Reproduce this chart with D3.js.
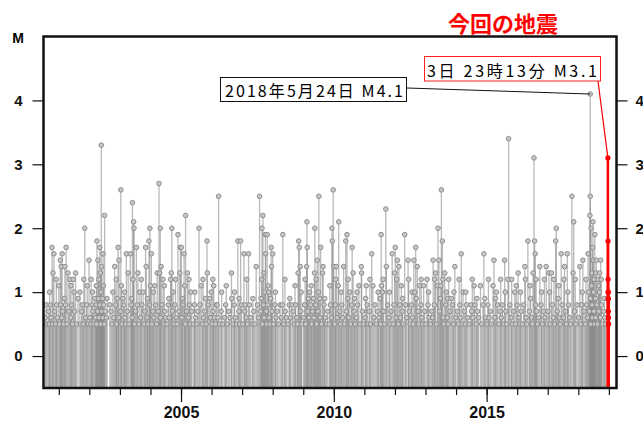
<!DOCTYPE html>
<html>
<head>
<meta charset="utf-8">
<script src="https://cdn.jsdelivr.net/npm/d3@7"></script>
<style>
  body { margin: 0; background: #fff; }
</style>
</head>
<body>
<div id="chart"></div>
<script>
// events M >= ~1: [decimal year, magnitude]
var bigQuakes = [
  [2000.78,1.7],[2000.81,1.3],[2000.84,1.6],[2001.00,1.1],[2001.05,1.5],[2001.08,1.4],[2001.11,1.6],[2001.20,1.4],[2001.24,1.7],[2001.30,1.3],[2001.36,1.2],[2001.47,1.2],[2001.50,1.0],[2001.55,1.3],[2001.63,0.9],[2001.77,0.8],[2001.85,2.0],[2001.93,1.1],[2001.99,1.5],
  [2002.06,1.2],[2002.25,1.8],[2002.28,1.5],[2002.34,1.7],[2002.36,1.3],[2002.39,3.3],[2002.40,1.4],[2002.45,1.6],[2002.50,2.2],[2002.67,0.8],[2002.77,1.0],[2002.83,1.4],[2002.91,0.9],[2002.94,1.7],[2002.97,1.5],
  [2003.03,2.6],[2003.05,1.1],[2003.10,0.9],[2003.21,1.6],[2003.27,1.3],[2003.34,1.6],[2003.41,2.4],[2003.43,1.2],[2003.45,2.1],[2003.46,2.0],[2003.54,1.7],[2003.59,1.3],[2003.65,1.0],[2003.76,1.0],[2003.84,1.7],[2003.86,1.4],[2003.95,1.8],[2003.98,2.0],
  [2004.00,1.1],[2004.03,1.6],[2004.14,1.1],[2004.22,1.3],[2004.28,2.7],[2004.30,1.3],[2004.32,2.0],[2004.35,1.4],[2004.41,1.2],[2004.66,1.2],[2004.68,1.3],[2004.70,2.0],[2004.74,1.0],[2004.90,1.9],[2004.96,1.3],[2004.98,1.7],
  [2005.01,1.7],[2005.10,1.6],[2005.12,1.1],[2005.15,2.2],[2005.21,1.3],[2005.32,1.0],[2005.59,2.0],[2005.66,1.1],[2005.85,1.8],[2005.86,1.3],[2005.94,0.9],[2005.99,1.0],
  [2006.07,1.1],[2006.15,0.8],[2006.23,2.5],[2006.65,1.3],[2006.66,0.9],[2006.86,1.8],[2006.95,1.8],
  [2007.06,1.6],[2007.10,0.8],[2007.21,1.6],[2007.46,1.4],[2007.57,2.5],[2007.65,2.0],[2007.68,2.2],[2007.76,1.9],[2007.77,1.6],[2007.82,1.9],[2007.85,1.1],[2007.95,1.7],[2007.96,1.4],
  [2008.00,1.6],[2008.24,0.8],[2008.33,1.9],[2008.63,0.8],[2008.83,1.3],[2008.85,1.8],[2008.87,1.7],[2008.90,1.4],
  [2009.11,1.4],[2009.12,2.1],[2009.13,1.7],[2009.21,1.0],[2009.37,1.3],[2009.38,2.0],[2009.46,1.5],[2009.51,2.5],[2009.57,1.7],[2009.63,1.3],[2009.65,1.4],[2009.94,2.0],[2009.95,1.8],[2009.98,2.6],
  [2010.00,1.4],[2010.08,1.4],[2010.14,1.1],[2010.16,2.1],[2010.32,1.4],[2010.39,1.8],[2010.43,1.9],[2010.52,1.0],[2010.60,1.7],[2010.63,1.3],[2010.82,1.1],[2010.90,1.4],[2010.91,1.3],
  [2011.06,1.1],[2011.24,1.6],[2011.28,1.1],[2011.55,1.9],[2011.56,1.1],[2011.59,1.0],[2011.70,2.3],[2011.72,1.4],[2011.91,1.6],[2011.99,1.3],
  [2012.01,1.7],[2012.08,1.5],[2012.13,1.4],[2012.21,1.1],[2012.32,1.9],[2012.43,1.5],[2012.62,1.5],[2012.65,1.0],[2012.68,1.7],[2012.73,1.4],[2012.81,1.1],[2012.94,1.1],
  [2013.05,1.2],[2013.25,1.5],[2013.33,1.3],[2013.39,1.1],[2013.41,2.0],[2013.44,1.5],[2013.52,2.6],[2013.55,1.8],[2013.63,1.3],[2013.68,1.0],[2013.76,1.2],[2013.84,0.9],[2013.96,1.4],
  [2014.17,1.6],[2014.23,1.0],[2014.48,0.8],[2014.59,1.1],[2014.91,1.6],[2014.94,0.9],
  [2015.21,1.1],[2015.24,1.5],[2015.32,1.0],[2015.59,1.5],[2015.70,1.2],[2015.72,3.4],[2015.92,1.0],[2015.97,1.1],
  [2016.03,1.3],[2016.25,1.4],[2016.35,1.8],[2016.52,1.3],[2016.55,3.1],[2016.57,1.8],[2016.59,1.6],[2016.74,1.4],[2016.95,1.4],
  [2017.04,1.3],[2017.12,1.3],[2017.26,1.8],[2017.28,2.0],[2017.44,1.6],[2017.55,1.4],[2017.64,1.6],[2017.79,2.5],[2017.83,1.3],[2017.85,2.1],
  [2018.05,1.4],[2018.15,1.5],[2018.32,1.6],[2018.38,2.2],[2018.39,2.5],[2018.42,2.0],[2018.47,1.7],[2018.48,2.1],[2018.49,1.5],[2018.54,1.9],[2018.59,1.5],[2018.65,1.2],[2018.70,1.3],[2018.73,1.5]
];

// mid-size events around M1, estimated
var midQuakes = [
  [2000.70,1.0],[2000.92,1.2],[2001.18,0.9],[2001.40,1.1],[2001.69,1.0],[2001.82,1.2],[2002.10,1.0],[2002.23,1.1],[2002.31,1.2],[2002.46,1.1],[2002.58,0.9],[2002.88,1.2],
  [2003.15,1.0],[2003.38,0.9],[2003.70,1.2],[2003.90,0.9],[2004.09,1.0],[2004.45,1.1],[2004.60,0.9],[2004.82,1.2],[2005.05,0.9],[2005.26,1.2],[2005.45,1.0],[2005.72,1.2],[2005.80,0.9],
  [2006.04,1.2],[2006.33,1.0],[2006.48,1.1],[2006.75,1.0],[2006.90,0.9],[2007.15,1.2],[2007.35,0.9],[2007.64,1.2],[2007.71,1.3],[2007.87,1.0],[2008.09,1.0],[2008.40,1.2],[2008.56,0.9],[2008.73,1.1],[2008.93,1.0],
  [2009.06,1.2],[2009.26,1.1],[2009.42,1.2],[2009.50,1.0],[2009.70,0.9],[2009.87,1.1],[2010.06,1.2],[2010.24,1.0],[2010.47,1.2],[2010.68,0.9],[2010.76,1.0],
  [2011.04,0.9],[2011.18,1.2],[2011.45,1.0],[2011.61,1.2],[2011.82,1.0],[2012.06,1.2],[2012.25,0.9],[2012.45,1.2],[2012.56,1.0],[2012.86,1.2],
  [2013.10,1.0],[2013.30,1.2],[2013.50,1.1],[2013.57,1.2],[2013.72,0.9],[2013.93,1.0],[2014.10,1.2],[2014.32,1.0],[2014.53,1.2],[2014.68,0.9],[2014.80,1.1],
  [2015.06,1.2],[2015.29,0.9],[2015.46,1.2],[2015.61,1.0],[2015.82,1.2],[2016.11,1.0],[2016.27,1.2],[2016.42,1.1],[2016.62,1.2],[2016.80,1.0],[2016.89,1.2],
  [2017.06,1.0],[2017.20,1.2],[2017.36,1.1],[2017.53,1.2],[2017.66,1.0],[2017.90,1.2],[2018.13,1.0],[2018.25,1.2],[2018.44,1.3],[2018.52,1.2],[2018.58,1.3],[2018.66,1.1],[2018.75,1.2],[2018.85,0.9]
];

// the dense small events, estimated
var smallQuakes = [
  [2000.56,0.6],[2000.59,0.8],[2000.62,0.5],[2000.66,0.7],[2000.69,0.5],[2000.72,0.8],[2000.75,0.6],[2000.80,0.5],[2000.87,0.7],[2000.90,0.5],[2000.93,0.8],[2000.96,0.6],
  [2001.02,0.5],[2001.06,0.8],[2001.10,0.6],[2001.13,0.7],[2001.16,0.5],[2001.22,0.8],[2001.27,0.5],[2001.33,0.7],[2001.39,0.6],[2001.42,0.8],[2001.45,0.5],[2001.52,0.7],[2001.58,0.5],[2001.71,0.5],[2001.75,0.7],[2001.80,0.5],[2001.88,0.6],[2001.91,0.8],[2001.96,0.5],
  [2002.02,0.6],[2002.05,0.5],[2002.09,0.8],[2002.12,0.7],[2002.15,0.5],[2002.18,0.9],[2002.20,0.6],[2002.22,0.8],[2002.24,0.5],[2002.27,0.7],[2002.30,0.9],[2002.32,0.6],[2002.35,0.8],[2002.37,0.5],[2002.38,1.0],[2002.41,0.7],[2002.43,0.9],[2002.44,0.6],[2002.47,0.8],[2002.49,0.5],[2002.52,0.7],[2002.56,0.6],[2002.71,0.7],[2002.74,0.5],[2002.80,0.6],[2002.86,0.8],[2002.89,0.5],[2002.96,0.6],
  [2003.01,0.7],[2003.07,0.5],[2003.13,0.8],[2003.16,0.6],[2003.19,0.5],[2003.24,0.7],[2003.30,0.5],[2003.37,0.8],[2003.40,0.6],[2003.48,0.5],[2003.51,0.7],[2003.57,0.8],[2003.62,0.5],[2003.68,0.6],[2003.72,0.8],[2003.79,0.5],[2003.81,0.7],[2003.89,0.6],[2003.92,0.5],[2003.97,0.8],
  [2004.05,0.5],[2004.08,0.7],[2004.11,0.6],[2004.17,0.8],[2004.20,0.5],[2004.25,0.7],[2004.33,0.6],[2004.38,0.8],[2004.44,0.5],[2004.47,0.7],[2004.50,0.6],[2004.54,0.5],[2004.58,0.8],[2004.62,0.6],[2004.72,0.7],[2004.77,0.5],[2004.80,0.8],[2004.84,0.6],[2004.87,0.5],[2004.93,0.7],
  [2005.03,0.6],[2005.06,0.8],[2005.14,0.5],[2005.18,0.7],[2005.24,0.6],[2005.27,0.8],[2005.30,0.5],[2005.35,0.7],[2005.40,0.5],[2005.44,0.8],[2005.48,0.6],[2005.52,0.5],[2005.55,0.7],[2005.62,0.8],[2005.70,0.5],[2005.74,0.6],[2005.78,0.7],[2005.82,0.5],[2005.89,0.8],[2005.96,0.6],
  [2006.02,0.5],[2006.05,0.7],[2006.10,0.6],[2006.13,0.5],[2006.18,0.8],[2006.21,0.6],[2006.27,0.5],[2006.31,0.7],[2006.37,0.5],[2006.42,0.6],[2006.46,0.8],[2006.51,0.5],[2006.56,0.7],[2006.60,0.6],[2006.70,0.5],[2006.74,0.8],[2006.78,0.6],[2006.82,0.5],[2006.89,0.7],[2006.92,0.5],[2006.98,0.8],
  [2007.02,0.5],[2007.08,0.7],[2007.13,0.6],[2007.17,0.5],[2007.24,0.8],[2007.28,0.6],[2007.33,0.5],[2007.38,0.7],[2007.42,0.5],[2007.50,0.8],[2007.54,0.6],[2007.60,0.7],[2007.62,0.9],[2007.66,0.5],[2007.70,0.8],[2007.72,0.6],[2007.74,1.0],[2007.79,0.7],[2007.80,0.5],[2007.84,0.8],[2007.88,0.6],[2007.91,0.5],[2007.93,0.9],[2007.98,0.7],
  [2008.03,0.5],[2008.07,0.8],[2008.11,0.6],[2008.15,0.7],[2008.19,0.5],[2008.28,0.6],[2008.31,0.8],[2008.37,0.5],[2008.41,0.7],[2008.45,0.6],[2008.50,0.5],[2008.54,0.8],[2008.58,0.6],[2008.67,0.7],[2008.71,0.5],[2008.75,0.8],[2008.79,0.6],[2008.81,0.5],[2008.92,0.7],[2008.95,0.5],
  [2009.01,0.6],[2009.04,0.8],[2009.08,0.5],[2009.15,0.7],[2009.17,0.9],[2009.19,0.6],[2009.24,0.8],[2009.27,0.5],[2009.30,0.7],[2009.33,0.9],[2009.35,0.6],[2009.41,0.8],[2009.44,0.5],[2009.48,0.7],[2009.54,0.9],[2009.55,0.6],[2009.60,0.5],[2009.68,0.8],[2009.72,0.6],[2009.76,0.5],[2009.80,0.7],[2009.85,0.5],[2009.89,0.8],[2009.92,0.6],
  [2010.03,0.5],[2010.05,0.8],[2010.11,0.6],[2010.19,0.7],[2010.22,0.5],[2010.26,0.8],[2010.29,0.6],[2010.35,0.5],[2010.41,0.7],[2010.46,0.9],[2010.49,0.6],[2010.55,0.5],[2010.58,0.8],[2010.66,0.7],[2010.70,0.5],[2010.74,0.6],[2010.78,0.8],[2010.86,0.5],[2010.94,0.7],[2010.97,0.5],
  [2011.02,0.6],[2011.09,0.8],[2011.12,0.5],[2011.16,0.7],[2011.20,0.5],[2011.31,0.6],[2011.35,0.8],[2011.39,0.5],[2011.43,0.7],[2011.47,0.6],[2011.51,0.9],[2011.53,0.5],[2011.63,0.7],[2011.66,0.5],[2011.76,0.8],[2011.80,0.6],[2011.84,0.5],[2011.87,0.7],[2011.94,0.5],[2011.97,0.8],
  [2012.04,0.6],[2012.11,0.5],[2012.16,0.8],[2012.18,0.6],[2012.24,0.7],[2012.27,0.5],[2012.35,0.8],[2012.38,0.6],[2012.47,0.7],[2012.50,0.5],[2012.54,0.8],[2012.57,0.6],[2012.60,0.5],[2012.70,0.9],[2012.76,0.7],[2012.78,0.5],[2012.85,0.8],[2012.88,0.6],[2012.91,0.5],[2012.97,0.7],
  [2013.01,0.5],[2013.08,0.8],[2013.12,0.6],[2013.16,0.5],[2013.20,0.7],[2013.23,0.6],[2013.29,0.8],[2013.36,0.5],[2013.46,0.7],[2013.49,0.9],[2013.58,0.6],[2013.60,0.5],[2013.66,0.8],[2013.71,0.6],[2013.74,0.5],[2013.80,0.7],[2013.88,0.8],[2013.91,0.5],[2013.99,0.6],
  [2014.04,0.7],[2014.08,0.5],[2014.12,0.8],[2014.14,0.6],[2014.20,0.5],[2014.27,0.7],[2014.30,0.5],[2014.34,0.8],[2014.38,0.6],[2014.43,0.5],[2014.51,0.7],[2014.55,0.6],[2014.62,0.8],[2014.66,0.5],[2014.70,0.7],[2014.74,0.6],[2014.84,0.5],[2014.88,0.8],[2014.97,0.6],
  [2015.01,0.5],[2015.04,0.8],[2015.08,0.6],[2015.12,0.7],[2015.16,0.5],[2015.27,0.6],[2015.36,0.8],[2015.40,0.5],[2015.44,0.7],[2015.48,0.6],[2015.52,0.8],[2015.56,0.5],[2015.63,0.7],[2015.66,0.5],[2015.76,0.8],[2015.80,0.6],[2015.84,0.5],[2015.88,0.7],[2015.95,0.5],
  [2016.00,0.8],[2016.06,0.6],[2016.09,0.5],[2016.13,0.7],[2016.17,0.5],[2016.21,0.8],[2016.29,0.6],[2016.32,0.5],[2016.40,0.7],[2016.44,0.9],[2016.47,0.6],[2016.50,0.5],[2016.61,0.8],[2016.64,0.7],[2016.66,0.5],[2016.70,0.6],[2016.78,0.8],[2016.82,0.5],[2016.86,0.7],[2016.91,0.6],[2016.98,0.5],
  [2017.01,0.7],[2017.08,0.5],[2017.15,0.8],[2017.18,0.6],[2017.22,0.5],[2017.31,0.7],[2017.34,0.9],[2017.38,0.6],[2017.41,0.5],[2017.47,0.8],[2017.51,0.6],[2017.58,0.7],[2017.61,0.5],[2017.68,0.8],[2017.72,0.6],[2017.75,0.5],[2017.88,0.7],[2017.92,0.5],[2017.96,0.8],
  [2018.01,0.6],[2018.08,0.5],[2018.11,0.8],[2018.19,0.7],[2018.23,0.5],[2018.27,0.8],[2018.30,0.6],[2018.34,1.0],[2018.36,0.7],[2018.40,0.9],[2018.41,0.5],[2018.43,1.1],[2018.45,0.8],[2018.46,0.6],[2018.50,1.0],[2018.51,0.7],[2018.53,0.5],[2018.56,0.9],[2018.57,0.6],[2018.61,0.8],[2018.63,0.5],[2018.67,0.7],[2018.69,1.0],[2018.72,0.6],[2018.76,0.8],[2018.79,0.5],[2018.83,0.7],[2018.87,0.6],[2018.90,0.5]
];

// 2018-05-24 M4.1
var largestQuake = [[2018.39, 4.1]];

// this time's sequence (red)
var recentQuakes = [
  [2018.968,3.1],[2018.972,1.8],[2018.975,1.2],[2018.977,1.0],[2018.979,0.9],[2018.981,1.0],[2018.983,0.9],[2018.985,0.7],[2018.987,0.6],[2018.989,0.5],[2018.990,0.5]
];

var magTicks = [0, 1, 2, 3, 4];
var yearTicks = d3.range(2001, 2020);
var yearLabels = [2005, 2010, 2015];

var titleText = "今回の地震";
var recentLabel = "3日 23時13分 M3.1";
var largestLabel = "2018年5月24日 M4.1";

var svgWidth = 643;
var svgHeight = 421;
var frame = {left: 43.5, right: 616.5, top: 36.5, bottom: 388};

var svg = d3.select("#chart").append("svg")
    .attr("width", svgWidth)
    .attr("height", svgHeight)
    .style("font-family", "'Liberation Sans', Arial, sans-serif");

var xScale = d3.scaleLinear().domain([2000.5, 2019.25]).range([frame.left, frame.right]);
var yScale = d3.scaleLinear().domain([-0.5, 5]).range([frame.bottom, frame.top]);

var grayQuakes = smallQuakes.concat(midQuakes, bigQuakes, largestQuake)
    .sort(function(a, b) { return a[0] - b[0]; });

// stems
svg.append("g").selectAll("line")
    .data(grayQuakes)
    .enter().append("line")
    .attr("x1", function(d) { return xScale(d[0]); })
    .attr("x2", function(d) { return xScale(d[0]); })
    .attr("y1", yScale(-0.5))
    .attr("y2", function(d) { return yScale(d[1]); })
    .attr("stroke", "#8a8a8a")
    .attr("stroke-opacity", 0.6)
    .attr("stroke-width", 1.3);

svg.append("g").selectAll("circle")
    .data(grayQuakes)
    .enter().append("circle")
    .attr("cx", function(d) { return xScale(d[0]); })
    .attr("cy", function(d) { return yScale(d[1]); })
    .attr("r", 2.3)
    .attr("fill", "#c8c8c8")
    .attr("stroke", "#8c8c8c")
    .attr("stroke-width", 1);

// red sequence
svg.append("g").selectAll("line")
    .data(recentQuakes)
    .enter().append("line")
    .attr("x1", function(d) { return xScale(d[0]); })
    .attr("x2", function(d) { return xScale(d[0]); })
    .attr("y1", yScale(-0.5))
    .attr("y2", function(d) { return yScale(d[1]); })
    .attr("stroke", "#ff0000")
    .attr("stroke-width", 2.5);

svg.append("g").selectAll("circle")
    .data(recentQuakes)
    .enter().append("circle")
    .attr("cx", function(d) { return xScale(d[0]); })
    .attr("cy", function(d) { return yScale(d[1]); })
    .attr("r", 2.6)
    .attr("fill", "#ff0000");

// frame
svg.append("rect")
    .attr("x", frame.left)
    .attr("y", frame.top)
    .attr("width", frame.right - frame.left)
    .attr("height", frame.bottom - frame.top)
    .attr("fill", "none")
    .attr("stroke", "#111")
    .attr("stroke-width", 2.5);

// axes
function styleAxis(g, size) {
    g.select(".domain").remove();
    g.selectAll(".tick line").attr("stroke", "#111").attr("stroke-width", 1.2);
    g.selectAll(".tick text")
        .attr("fill", "#111")
        .style("font-size", size + "px")
        .style("font-weight", "bold");
}

svg.append("g")
    .attr("transform", "translate(" + frame.left + ",0)")
    .call(d3.axisLeft(yScale).tickValues(magTicks).tickSize(11).tickPadding(10).tickFormat(d3.format("d")))
    .call(styleAxis, 15);

svg.append("g")
    .attr("transform", "translate(" + frame.right + ",0)")
    .call(d3.axisRight(yScale).tickValues(magTicks).tickSize(11).tickPadding(8).tickFormat(d3.format("d")))
    .call(styleAxis, 15);

svg.append("g")
    .attr("transform", "translate(0," + frame.bottom + ")")
    .call(d3.axisBottom(xScale).tickValues(yearTicks).tickSize(7).tickFormat(""))
    .call(styleAxis, 16);

svg.append("g")
    .attr("transform", "translate(0," + frame.bottom + ")")
    .call(d3.axisBottom(xScale).tickValues(yearLabels).tickSize(14).tickPadding(5).tickFormat(d3.format("d")))
    .call(styleAxis, 16);

svg.append("text")
    .attr("x", 18)
    .attr("y", 43)
    .attr("text-anchor", "middle")
    .style("font-size", "14px")
    .style("font-weight", "bold")
    .text("M");

// title
svg.append("text")
    .attr("x", 503)
    .attr("y", 32)
    .attr("text-anchor", "middle")
    .attr("fill", "#ff0000")
    .style("font-family", "'Noto Sans CJK JP', sans-serif")
    .style("font-size", "22px")
    .style("font-weight", "bold")
    .text(titleText);

// annotation: largest event
var big = largestQuake[0];
svg.append("line")
    .attr("x1", 407).attr("y1", 88)
    .attr("x2", xScale(big[0])).attr("y2", yScale(big[1]))
    .attr("stroke", "#111")
    .attr("stroke-width", 1);

svg.append("rect")
    .attr("x", 220.5).attr("y", 77.5)
    .attr("width", 186).attr("height", 24)
    .attr("fill", "#fff")
    .attr("stroke", "#111")
    .attr("stroke-width", 1);

svg.append("text")
    .attr("x", 225)
    .attr("y", 96.5)
    .attr("textLength", 178)
    .attr("lengthAdjust", "spacing")
    .style("font-family", "'Noto Sans CJK JP', sans-serif")
    .style("font-size", "16px")
    .text(largestLabel);

// annotation: this event
var main = recentQuakes[0];
svg.append("line")
    .attr("x1", 598).attr("y1", 81)
    .attr("x2", xScale(main[0])).attr("y2", yScale(main[1]))
    .attr("stroke", "#ff0000")
    .attr("stroke-width", 1.2);

svg.append("rect")
    .attr("x", 424.5).attr("y", 56.5)
    .attr("width", 176).attr("height", 24.5)
    .attr("fill", "#fff")
    .attr("stroke", "#ff2020")
    .attr("stroke-width", 1);

svg.append("text")
    .attr("x", 427)
    .attr("y", 77)
    .attr("textLength", 170)
    .attr("lengthAdjust", "spacing")
    .style("font-family", "'Noto Sans CJK JP', sans-serif")
    .style("font-size", "16px")
    .text(recentLabel);
</script>
</body>
</html>
